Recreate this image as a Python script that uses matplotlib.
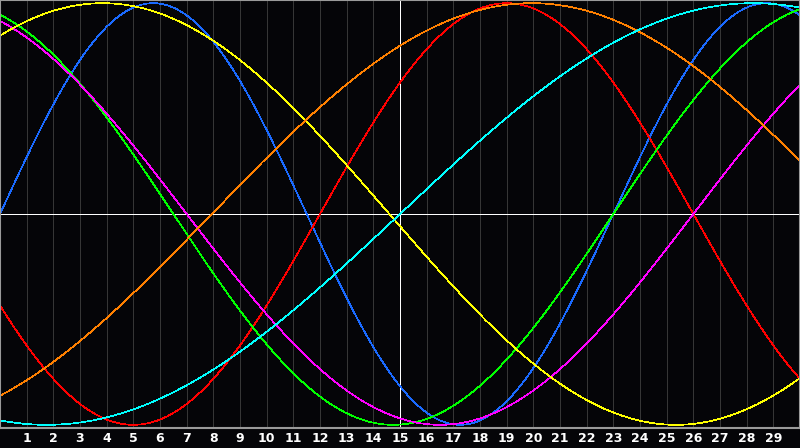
import matplotlib.pyplot as plt
import numpy as np

# biorhythm cycles: length in days and the day the cycle crosses zero going up
periods = [23, 28, 33, 38, 43, 48, 53]
zero_days = [0.0, 12.0, 23.0, 26.0, -6.9, 7.94, 15.0]
colors = ['#1a6aff', '#ff0000', '#00ff00', '#ff00ff', '#ffff00', '#ff8000', '#00ffff']

days = list(range(1, 30))
today = 15

fig = plt.figure(figsize=(8, 4.48), dpi=100, facecolor='#050508')
ax = fig.add_axes([0, 20 / 448, 1, 428 / 448])
ax.set_facecolor('#050508')

for d in days:
    ax.axvline(d, color='#363636', lw=0.72, antialiased=False, zorder=0)
ax.axvline(today, color='white', lw=0.72, antialiased=False, zorder=1)
ax.axhline(0, color='white', lw=0.72, antialiased=False, zorder=1)

x = np.linspace(0, 30, 1200)
for p, z, c in zip(periods, zero_days, colors):
    ax.plot(x, np.sin(2 * np.pi * (x - z) / p), color=c, lw=0.5, antialiased=False, zorder=2)

ax.set_xlim(0, 30)
ax.set_ylim(-1.015, 1.015)
ax.set_yticks([])
ax.set_xticks(days)
ax.set_xticklabels([str(d) for d in days], color='white', fontsize=9, fontweight='bold')
ax.tick_params(axis='x', length=0, pad=3)
for s in ax.spines.values():
    s.set_color('#9a9a9a')
    s.set_linewidth(1.5)

plt.savefig('out.png', dpi=100, facecolor=fig.get_facecolor())
